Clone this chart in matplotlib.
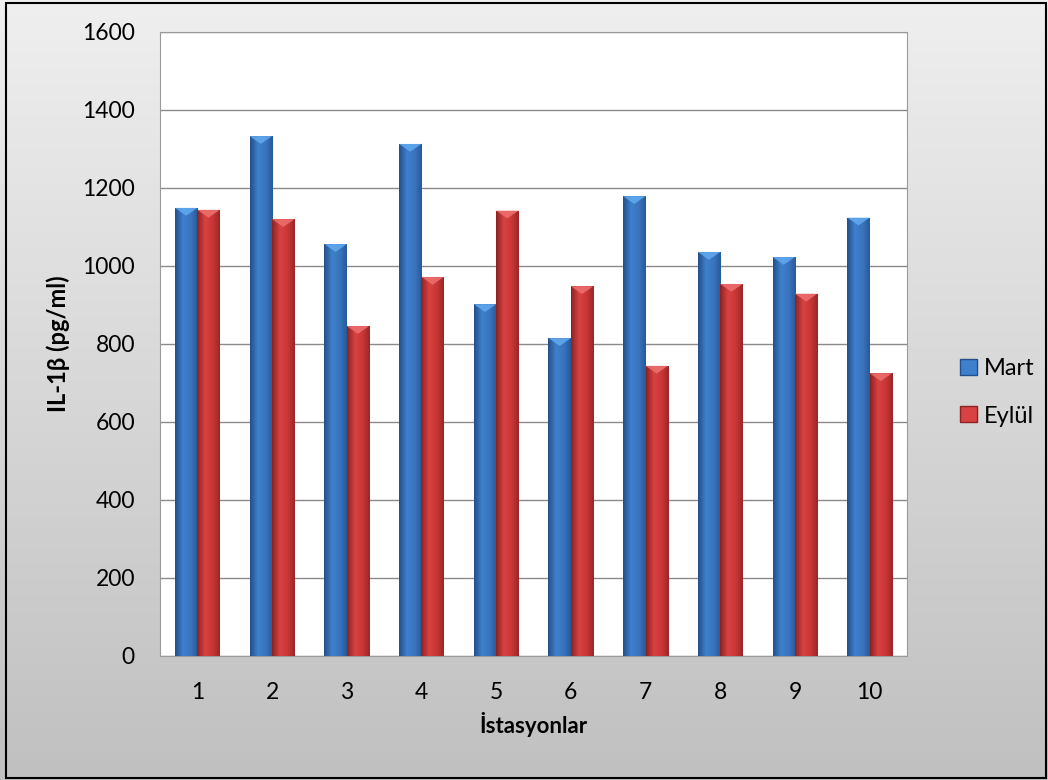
import numpy as np
import matplotlib.pyplot as plt
from matplotlib.colors import LinearSegmentedColormap
from matplotlib.patches import Patch, Polygon, Rectangle

stations = ['1', '2', '3', '4', '5', '6', '7', '8', '9', '10']
mart = [1149, 1333, 1056, 1313, 902, 815, 1179, 1036, 1023, 1124]
eylul = [1144, 1120, 846, 972, 1142, 948, 744, 954, 929, 725]

series = [
    ('Mart', mart, ['#234f8a', '#3f80cc', '#3a74bd', '#275a98'], '#62aaf0'),
    ('Eylül', eylul, ['#8c2222', '#d84242', '#c93636', '#982727'], '#f07070'),
]

plt.rcParams['font.family'] = ['Lato', 'DejaVu Sans']

fig = plt.figure(figsize=(10.48, 7.8), dpi=100)

# grey gradient chart background with black frame
bg = fig.add_axes([0, 0, 1, 1], zorder=-10)
bg_cmap = LinearSegmentedColormap.from_list('bg', ['#efefef', '#c0c0c0'])
bg.imshow(np.linspace(0, 1, 256)[:, None], aspect='auto', cmap=bg_cmap,
          extent=[0, 1, 0, 1])
bg.add_patch(Rectangle((6 / 1048, 2 / 780), 1040 / 1048, 775 / 780,
                       fill=False, ec='black', lw=1.5))
bg.set_xlim(0, 1)
bg.set_ylim(0, 1)
bg.axis('off')

ax = fig.add_axes([160 / 1048, 1 - 656 / 780, 747 / 1048, 624 / 780])
ax.set_facecolor('white')

x = np.arange(len(stations))
w = 0.3
grad = np.linspace(0, 1, 64)[None, :]
handles = []
for i, (name, vals, shades, top) in enumerate(series):
    cmap = LinearSegmentedColormap.from_list(name, list(zip([0, 0.35, 0.7, 1], shades)))
    bars = ax.bar(x + (i - 0.5) * w, vals, w, color=shades[2], lw=0, zorder=3)
    for b in bars:
        x0, h = b.get_x(), b.get_height()
        im = ax.imshow(grad, aspect='auto', cmap=cmap, zorder=3,
                       extent=[x0, x0 + w, 0, h])
        im.set_clip_path(b)
        # light bevel on the bar top
        ax.add_patch(Polygon([(x0, h), (x0 + w, h), (x0 + w / 2, h - 20)],
                             closed=True, fc=top, ec='none', alpha=0.85, zorder=4))
    handles.append(Patch(facecolor=shades[1], edgecolor=shades[0], label=name))

ax.set_xlim(-0.5, len(stations) - 0.5)
ax.set_ylim(0, 1600)
ax.set_yticks(np.arange(0, 1601, 200))
ax.set_xticks(x)
ax.set_xticklabels(stations)
ax.grid(axis='y', color='#8a8a8a', lw=1, zorder=1)
ax.set_axisbelow(True)
for s in ax.spines.values():
    s.set_color('#9a9a9a')
ax.tick_params(length=0, labelsize=16.5)
ax.tick_params(axis='y', pad=18)
ax.tick_params(axis='x', pad=19)

ax.set_ylabel('IL-1β (pg/ml)', fontsize=17, fontweight='bold', labelpad=9)
ax.set_xlabel('İstasyonlar', fontsize=16, fontweight='bold', labelpad=6)

fig.legend(handles=handles, loc='center left', bbox_to_anchor=(0.8956, 0.497),
           frameon=False, fontsize=17, handlelength=0.72, handleheight=0.65,
           handletextpad=0.3, labelspacing=1.12)

fig.savefig('out.png', dpi=100)
